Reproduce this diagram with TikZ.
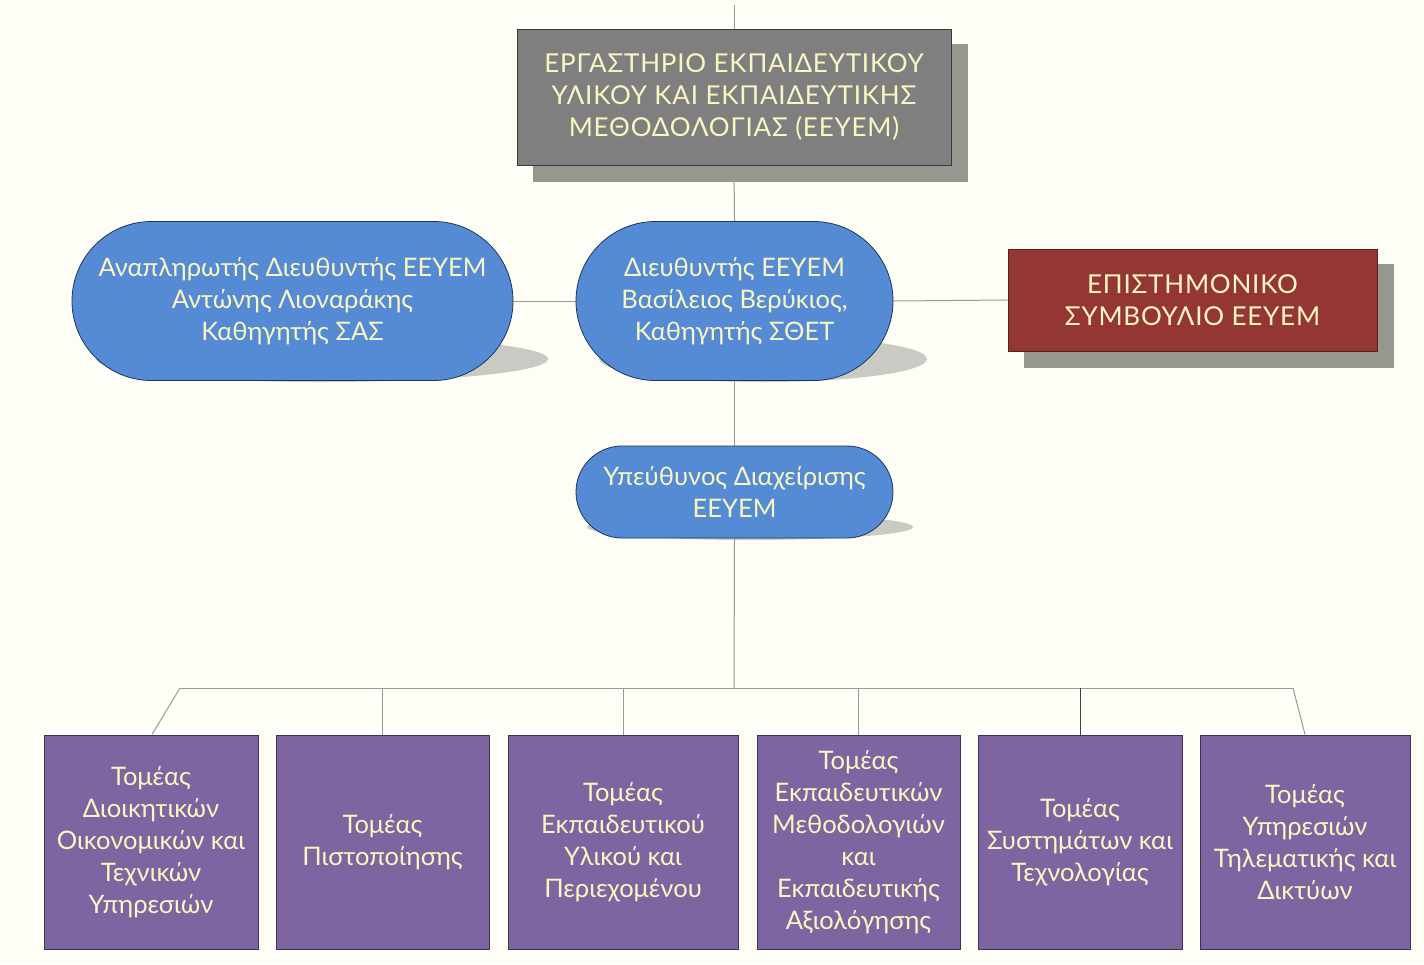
\documentclass[tikz,border=0pt]{standalone}
\usepackage{fontspec}
\setmainfont{Lato}
\usetikzlibrary{shapes.misc,positioning}
\pgfdeclarelayer{bg}
\pgfdeclarelayer{shadows}
\pgfdeclarelayer{lines}
\pgfsetlayers{bg,shadows,lines,main}
\definecolor{bgc}{HTML}{FEFEF7}
\definecolor{txt}{HTML}{FAF6C2}
\definecolor{grayfill}{HTML}{7F7F7F}
\definecolor{grayedge}{HTML}{3A3A3A}
\definecolor{boxshadow}{HTML}{97978F}
\definecolor{ellshadow}{HTML}{C9CAC3}
\definecolor{bluefill}{HTML}{558AD4}
\definecolor{blueedge}{HTML}{1F3558}
\definecolor{redfill}{HTML}{943634}
\definecolor{rededge}{HTML}{5A1F1E}
\definecolor{purpfill}{HTML}{7E64A0}
\definecolor{purpedge}{HTML}{3F3151}
\definecolor{linec}{HTML}{9A9A9A}
\tikzset{
  x=1pt, y=-1pt,
  basetext/.style={text=txt, align=center, font=\fontsize{25.5}{32}\selectfont, inner sep=0pt},
  capstext/.style={font=\fontsize{26}{32}\selectfont\addfontfeature{LetterSpace=3}},
  graybox/.style={basetext, capstext, rectangle, fill=grayfill, draw=grayedge, line width=1pt},
  redbox/.style={basetext, capstext, rectangle, fill=redfill, draw=rededge, line width=1pt},
  stadium/.style={basetext, rounded rectangle, fill=bluefill, draw=blueedge, line width=0.8pt},
  unitbox/.style={basetext, rectangle, fill=purpfill, draw=purpedge, line width=1pt, minimum height=214pt},
  conn/.style={draw=linec, line width=1pt},
}
\begin{document}
\begin{tikzpicture}
\begin{pgfonlayer}{bg}
\fill[bgc] (0,0) rectangle (1424,964);
\end{pgfonlayer}
\useasboundingbox (0,0) rectangle (1424,964);

% nodes
\node[graybox, minimum width=434pt, minimum height=136pt] (top) at (734,97)
  {ΕΡΓΑΣΤΗΡΙΟ ΕΚΠΑΙΔΕΥΤΙΚΟΥ\\ΥΛΙΚΟΥ ΚΑΙ ΕΚΠΑΙΔΕΥΤΙΚΗΣ\\ΜΕΘΟΔΟΛΟΓΙΑΣ (ΕΕΥΕΜ)};
\node[stadium, minimum width=441pt, minimum height=159pt] (left) at (292.5,301)
  {Αναπληρωτής Διευθυντής ΕΕΥΕΜ\\Αντώνης Λιοναράκης\\Καθηγητής ΣΑΣ};
\node[stadium, minimum width=317pt, minimum height=159pt] (dir) at (734.5,301)
  {Διευθυντής ΕΕΥΕΜ\\Βασίλειος Βερύκιος,\\Καθηγητής ΣΘΕΤ};
\node[redbox, minimum width=369pt, minimum height=102pt] (council) at (1192.5,300)
  {ΕΠΙΣΤΗΜΟΝΙΚΟ\\ΣΥΜΒΟΥΛΙΟ ΕΕΥΕΜ};
\node[stadium, minimum width=317pt, minimum height=92pt] (man) at (734.5,492)
  {Υπεύθυνος Διαχείρισης\\ΕΕΥΕΜ};

\node[unitbox, minimum width=214pt] (b1) at (151,842)
  {Τομέας\\Διοικητικών\\Οικονομικών και\\Τεχνικών\\Υπηρεσιών};
\node[unitbox, minimum width=213pt] (b2) at (382.5,842)
  {Τομέας\\Πιστοποίησης};
\node[unitbox, minimum width=230pt] (b3) at (623,842)
  {Τομέας\\Εκπαιδευτικού\\Υλικού και\\Περιεχομένου};
\node[unitbox, minimum width=203pt] (b4) at (858.5,842)
  {Τομέας\\Εκπαιδευτικών\\Μεθοδολογιών\\και\\Εκπαιδευτικής\\Αξιολόγησης};
\node[unitbox, minimum width=204pt] (b5) at (1080,842)
  {Τομέας\\Συστημάτων και\\Τεχνολογίας};
\node[unitbox, minimum width=210pt] (b6) at (1305,842)
  {Τομέας\\Υπηρεσιών\\Τηλεματικής και\\Δικτύων};

% shadows
\begin{pgfonlayer}{shadows}
\fill[boxshadow] ([xshift=16pt,yshift=-15pt]top.north west) rectangle ([xshift=16pt,yshift=-16pt]top.south east);
\fill[boxshadow] ([xshift=16pt,yshift=-15pt]council.north west) rectangle ([xshift=16pt,yshift=-16pt]council.south east);
\fill[ellshadow] (322,359) ellipse [x radius=226, y radius=23];
\fill[ellshadow] (763,359) ellipse [x radius=164, y radius=23];
\fill[ellshadow] (750,527) ellipse [x radius=163, y radius=13];
\end{pgfonlayer}

% connectors
\coordinate (topstart) at (734,5);
\coordinate (busL) at (180,688);
\coordinate (busR) at (1293,688);
\coordinate (busM) at (734,688);
\begin{pgfonlayer}{lines}
\draw[conn] (topstart) -- (top.north);
\draw[conn] (top.south) -- (dir.north);
\draw[conn] (dir.south) -- (man.north);
\draw[conn] (man.south) -- (busM);
\draw[conn] (left.east) -- (dir.west);
\draw[conn] (dir.east) -- (council.west);
\draw[conn] (busL) -- (busR);
\draw[conn] (busL) -- ([xshift=1pt]b1.north);
\draw[conn] (b2.north) -- (b2.north |- busL);
\draw[conn] (b3.north) -- (b3.north |- busL);
\draw[conn] (b4.north) -- (b4.north |- busL);
\draw[conn, draw=black!75] (b5.north) -- (b5.north |- busL);
\draw[conn] (busR) -- (b6.north);
\end{pgfonlayer}
\end{tikzpicture}
\end{document}
